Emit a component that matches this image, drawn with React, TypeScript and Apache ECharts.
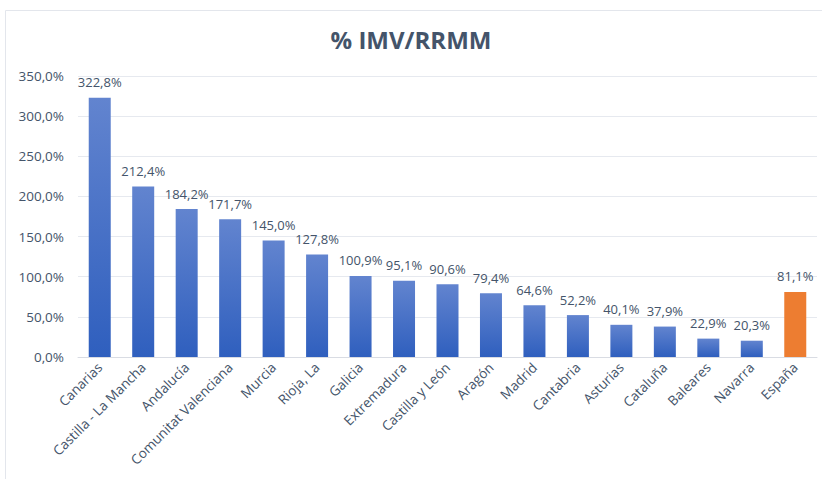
import React, { useEffect, useRef } from "react";
import * as echarts from "echarts";

const categories = [
  "Canarias", "Castilla - La Mancha", "Andalucía", "Comunitat Valenciana", "Murcia",
  "Rioja, La", "Galicia", "Extremadura", "Castilla y León", "Aragón", "Madrid",
  "Cantabria", "Asturias", "Cataluña", "Baleares", "Navarra", "España",
];
const values = [322.8, 212.4, 184.2, 171.7, 145.0, 127.8, 100.9, 95.1, 90.6, 79.4, 64.6, 52.2, 40.1, 37.9, 22.9, 20.3, 81.1];
const highlight = "España";
const titleText = "% IMV/RRMM";

const FONT = "'Open Sans', 'Noto Sans', sans-serif";
const TXT = "#44546a";

const fmt = (v: number) => v.toFixed(1).replace(".", ",") + "%";

export default function App() {
  const ref = useRef<HTMLDivElement>(null);
  useEffect(() => {
    document.body.style.margin = "0";
    const chart = echarts.init(ref.current!, null, { renderer: "svg" });
    const blue = new echarts.graphic.LinearGradient(0, 0, 0, 1, [
      { offset: 0, color: "#6284cf" },
      { offset: 1, color: "#2f5fbe" },
    ]);
    chart.setOption({
      animation: false,
      backgroundColor: "#ffffff",
      textStyle: { fontFamily: FONT },
      title: {
        text: titleText,
        left: "center",
        top: 22,
        textStyle: { fontFamily: FONT, fontSize: 24, fontWeight: "bold", color: TXT },
      },
      graphic: [
        {
          type: "rect",
          shape: { x: 5.5, y: 10.5, width: 830, height: 480 },
          style: { fill: "none", stroke: "#e3e6ec", lineWidth: 1 },
          silent: true,
        },
      ],
      grid: { left: 78, right: 5, top: 76, bottom: 122 },
      xAxis: {
        type: "category",
        data: categories,
        axisLine: { lineStyle: { color: "#d9dce3", width: 1 } },
        axisTick: { show: false },
        axisLabel: {
          rotate: 45,
          interval: 0,
          color: TXT,
          fontSize: 13.5,
          fontFamily: FONT,
          margin: 8,
        },
      },
      yAxis: {
        type: "value",
        min: 0,
        max: 350,
        interval: 50,
        axisLine: { show: false },
        axisTick: { show: false },
        splitLine: { lineStyle: { color: "#e6e9ef", width: 1 } },
        axisLabel: {
          formatter: (v: number) => fmt(v),
          color: TXT,
          fontSize: 13.5,
          fontFamily: FONT,
          margin: 14,
        },
      },
      series: [
        {
          type: "bar",
          data: values.map((v, i) => ({
            value: v,
            itemStyle: { color: categories[i] === highlight ? "#ed7d31" : blue },
          })),
          barWidth: 22,
          label: {
            show: true,
            position: "top",
            distance: 9,
            formatter: (p: any) => fmt(p.value),
            color: TXT,
            fontSize: 13,
            fontFamily: FONT,
          },
        },
      ],
    });
    return () => chart.dispose();
  }, []);
  return <div ref={ref} style={{ width: 822, height: 479 }} />;
}
